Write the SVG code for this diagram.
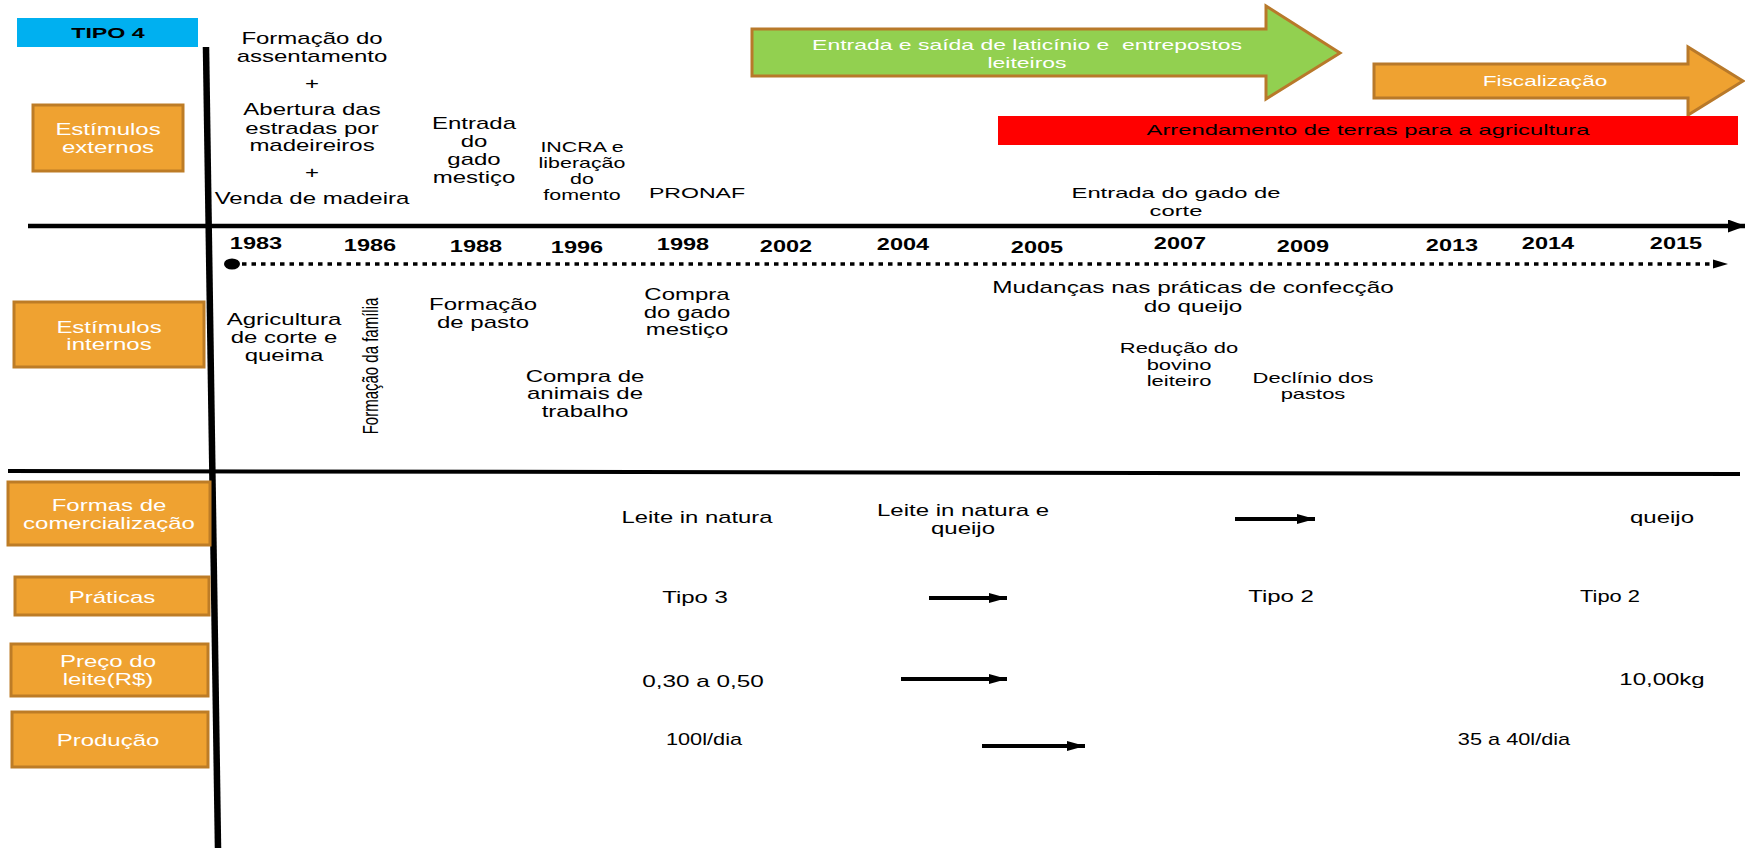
<svg xmlns="http://www.w3.org/2000/svg" width="1745" height="848" viewBox="0 0 1745 848">
<style>
.t{font-family:"Liberation Sans",Arial,sans-serif;font-size:16px;fill:#000;text-anchor:middle}
.s14{font-size:14px}
.s15{font-size:15px}
.w{fill:#fff}
.b{font-weight:bold}
.box{fill:#EFA231;stroke:#BD7C26;stroke-width:3}
.ln{stroke:#000;fill:none}
</style>
<defs>
<marker id="ah" markerUnits="userSpaceOnUse" markerWidth="18" markerHeight="10" refX="18" refY="5" orient="auto"><path d="M0,0 L18,5 L0,10 Z" fill="#000"/></marker>
<marker id="ahAxis" markerUnits="userSpaceOnUse" markerWidth="18" markerHeight="13" refX="18" refY="6.5" orient="auto"><path d="M0,0 L18,6.5 L0,13 Z" fill="#000"/></marker>
</defs>
<rect width="1745" height="848" fill="#fff"/>

<g id="connectors">
<line class="ln" x1="206" y1="47" x2="218" y2="848" stroke-width="6.5"/>
<line class="ln" x1="28" y1="226" x2="1746" y2="226" stroke-width="4.5" marker-end="url(#ahAxis)"/>
<line class="ln" x1="8" y1="471" x2="1740" y2="474" stroke-width="4"/>
<ellipse cx="232" cy="264" rx="8" ry="5.5" fill="#000"/>
<line class="ln" x1="242" y1="264" x2="1713" y2="264" stroke-width="3.5" stroke-dasharray="4.5 5"/>
<path d="M1713,259.5 L1728,264 L1713,268.5 Z" fill="#000"/>
<line class="ln" x1="1235" y1="519" x2="1315" y2="519" stroke-width="4" marker-end="url(#ah)"/>
<line class="ln" x1="929" y1="598" x2="1007" y2="598" stroke-width="4" marker-end="url(#ah)"/>
<line class="ln" x1="901" y1="679" x2="1007" y2="679" stroke-width="4" marker-end="url(#ah)"/>
<line class="ln" x1="982" y1="746" x2="1085" y2="746" stroke-width="4" marker-end="url(#ah)"/>
</g>

<g id="tipo4">
<rect x="17" y="18" width="181" height="29" fill="#00B0F0"/>
<text class="t s15 b" transform="translate(108,37.5) scale(1.55,1)">TIPO 4</text>
</g>

<g id="estimulos-externos">
<rect class="box" x="33" y="105" width="150" height="66"/>
<text class="t w" transform="translate(108,135) scale(1.5,1)"><tspan x="0" y="0">Estímulos</tspan><tspan x="0" y="18">externos</tspan></text>
</g>
<g id="estimulos-internos">
<rect class="box" x="14" y="302" width="190" height="65"/>
<text class="t w" transform="translate(109,333) scale(1.5,1)"><tspan x="0" y="0">Estímulos</tspan><tspan x="0" y="17">internos</tspan></text>
</g>
<g id="formas-comercializacao">
<rect class="box" x="8" y="482" width="202" height="63"/>
<text class="t w" transform="translate(109,511) scale(1.5,1)"><tspan x="0" y="0">Formas de</tspan><tspan x="0" y="18">comercialização</tspan></text>
</g>
<g id="praticas">
<rect class="box" x="15" y="577" width="194" height="38"/>
<text class="t w" transform="translate(112,603) scale(1.5,1)">Práticas</text>
</g>
<g id="preco-leite">
<rect class="box" x="11" y="644" width="197" height="52"/>
<text class="t w" transform="translate(108,667) scale(1.5,1)"><tspan x="0" y="0">Preço do</tspan><tspan x="0" y="18">leite(R$)</tspan></text>
</g>
<g id="producao">
<rect class="box" x="12" y="712" width="196" height="55"/>
<text class="t w" transform="translate(108,746) scale(1.5,1)">Produção</text>
</g>

<g id="arrow-laticinio">
<path d="M752,29 H1266 V6 L1340,53 L1266,99 V76 H752 Z" fill="#92D050" stroke="#B8792A" stroke-width="3"/>
<text class="t s14 w" xml:space="preserve" transform="translate(1027,50) scale(1.64,1)"><tspan x="0" y="0">Entrada e saída de laticínio e  entrepostos</tspan><tspan x="0" y="18">leiteiros</tspan></text>
</g>
<g id="arrow-fiscalizacao">
<path d="M1374,64 H1688 V47 L1743,81 L1688,115 V98 H1374 Z" fill="#EFA231" stroke="#B8792A" stroke-width="3"/>
<text class="t s14 w" transform="translate(1545,86) scale(1.62,1)">Fiscalização</text>
</g>
<g id="arrendamento">
<rect x="998" y="116" width="740" height="29" fill="#FF0000"/>
<text class="t s14" transform="translate(1368,135) scale(1.7,1)">Arrendamento de terras para a agricultura</text>
</g>

<g id="externos-texts">
<text class="t" transform="translate(312,44) scale(1.5,1)"><tspan x="0" y="0">Formação do</tspan><tspan x="0" y="18">assentamento</tspan><tspan x="0" y="45">+</tspan><tspan x="0" y="71">Abertura das</tspan><tspan x="0" y="90">estradas por</tspan><tspan x="0" y="107">madeireiros</tspan><tspan x="0" y="134">+</tspan><tspan x="0" y="160">Venda de madeira</tspan></text>
<text class="t" transform="translate(474,129) scale(1.5,1)"><tspan x="0" y="0">Entrada</tspan><tspan x="0" y="18">do</tspan><tspan x="0" y="36">gado</tspan><tspan x="0" y="54">mestiço</tspan></text>
<text class="t s14" transform="translate(582,152) scale(1.53,1)"><tspan x="0" y="0">INCRA e</tspan><tspan x="0" y="16">liberação</tspan><tspan x="0" y="32">do</tspan><tspan x="0" y="48">fomento</tspan></text>
<text class="t s15" transform="translate(697,197.5) scale(1.54,1)">PRONAF</text>
<text class="t s14" transform="translate(1176,198) scale(1.7,1)"><tspan x="0" y="0">Entrada do gado de</tspan><tspan x="0" y="18">corte</tspan></text>
</g>

<g id="years">
<text class="t b" transform="translate(256,249) scale(1.47,1)">1983</text>
<text class="t b" transform="translate(370,251) scale(1.47,1)">1986</text>
<text class="t b" transform="translate(476,252) scale(1.47,1)">1988</text>
<text class="t b" transform="translate(577,253) scale(1.47,1)">1996</text>
<text class="t b" transform="translate(683,250) scale(1.47,1)">1998</text>
<text class="t b" transform="translate(786,252) scale(1.47,1)">2002</text>
<text class="t b" transform="translate(903,250) scale(1.47,1)">2004</text>
<text class="t b" transform="translate(1037,253) scale(1.47,1)">2005</text>
<text class="t b" transform="translate(1180,249) scale(1.47,1)">2007</text>
<text class="t b" transform="translate(1303,252) scale(1.47,1)">2009</text>
<text class="t b" transform="translate(1452,251) scale(1.47,1)">2013</text>
<text class="t b" transform="translate(1548,249) scale(1.47,1)">2014</text>
<text class="t b" transform="translate(1676,249) scale(1.47,1)">2015</text>
</g>

<g id="internos-texts">
<text class="t" transform="translate(284,325) scale(1.5,1)"><tspan x="0" y="0">Agricultura</tspan><tspan x="0" y="18">de corte e</tspan><tspan x="0" y="36">queima</tspan></text>
<text class="t s15" transform="translate(378,366) scale(1.5,1) rotate(-90)">Formação da família</text>
<text class="t" transform="translate(483,310) scale(1.5,1)"><tspan x="0" y="0">Formação</tspan><tspan x="0" y="18">de pasto</tspan></text>
<text class="t" transform="translate(585,382) scale(1.5,1)"><tspan x="0" y="0">Compra de</tspan><tspan x="0" y="17.5">animais de</tspan><tspan x="0" y="35">trabalho</tspan></text>
<text class="t" transform="translate(687,300) scale(1.5,1)"><tspan x="0" y="0">Compra</tspan><tspan x="0" y="18">do gado</tspan><tspan x="0" y="35">mestiço</tspan></text>
<text class="t" transform="translate(1193,293) scale(1.52,1)"><tspan x="0" y="0">Mudanças nas práticas de confecção</tspan><tspan x="0" y="19">do queijo</tspan></text>
<text class="t s14" transform="translate(1179,353) scale(1.57,1)"><tspan x="0" y="0">Redução do</tspan><tspan x="0" y="17">bovino</tspan><tspan x="0" y="33">leiteiro</tspan></text>
<text class="t s14" transform="translate(1313,383) scale(1.57,1)"><tspan x="0" y="0">Declínio dos</tspan><tspan x="0" y="16">pastos</tspan></text>
</g>

<g id="rows-texts">
<text class="t" transform="translate(697,523) scale(1.49,1)">Leite in natura</text>
<text class="t" transform="translate(963,516) scale(1.5,1)"><tspan x="0" y="0">Leite in natura e</tspan><tspan x="0" y="18">queijo</tspan></text>
<text class="t" transform="translate(1662,523) scale(1.5,1)">queijo</text>
<text class="t" transform="translate(695,603) scale(1.5,1)">Tipo 3</text>
<text class="t" transform="translate(1281,602) scale(1.5,1)">Tipo 2</text>
<text class="t" transform="translate(1610,602) scale(1.37,1)">Tipo 2</text>
<text class="t" transform="translate(703,687) scale(1.52,1)">0,30 a 0,50</text>
<text class="t" transform="translate(1662,685) scale(1.5,1)">10,00kg</text>
<text class="t" transform="translate(704,745) scale(1.36,1)">100l/dia</text>
<text class="t" transform="translate(1514,745) scale(1.36,1)">35 a 40l/dia</text>
</g>
</svg>
